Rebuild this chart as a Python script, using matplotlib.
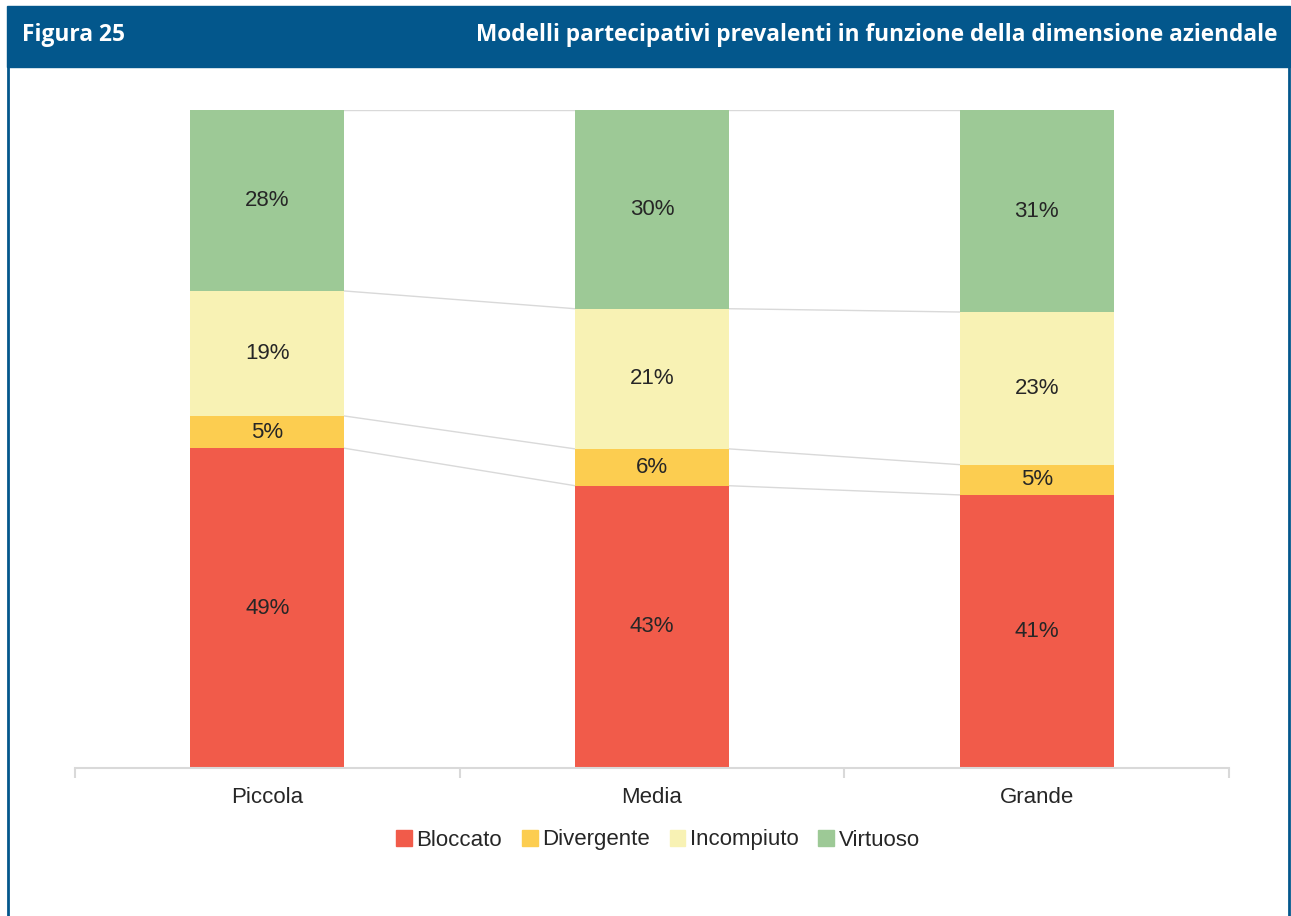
import matplotlib
matplotlib.use("Agg")
import matplotlib.pyplot as plt
from matplotlib.patches import Rectangle
from matplotlib.lines import Line2D
import numpy as np

# ---- data ----
categories = ["Piccola", "Media", "Grande"]
series = ["Bloccato", "Divergente", "Incompiuto", "Virtuoso"]
bloccato = [48.6, 42.9, 41.5]
divergente = [4.9, 5.6, 4.6]
incompiuto = [19.0, 21.3, 23.2]
virtuoso = [27.5, 30.2, 30.7]
labels_shown = [
    ["49%", "43%", "41%"],
    ["5%", "6%", "5%"],
    ["19%", "21%", "23%"],
    ["28%", "30%", "31%"],
]
colors = ["#F15B4A", "#FCCD50", "#F8F2B4", "#9DC996"]

HEADER = "#03578C"
TEXT = "#262626"
GRID = "#D9D9D9"
W, H = 1291, 916

plt.rcParams["font.family"] = ["Liberation Sans", "DejaVu Sans"]

fig = plt.figure(figsize=(W / 100, H / 100), dpi=100)

# header band and frame
fig.patches.append(Rectangle((7 / W, 1 - 67 / H), 1283 / W, 61 / H,
                             transform=fig.transFigure, color=HEADER, zorder=0))
for xb in (8 / W, 1289 / W):
    fig.lines.append(Line2D([xb, xb], [0, 1 - 66 / H], transform=fig.transFigure,
                            color=HEADER, lw=2))
fig.text(22 / W, 1 - 35 / H, "Figura 25", color="white", fontsize=16.4,
         fontweight="bold", family="Open Sans", va="center", ha="left")
fig.text(1278 / W, 1 - 35 / H,
         "Modelli partecipativi prevalenti in funzione della dimensione aziendale",
         color="white", fontsize=16.3, fontweight="bold", family="Open Sans",
         va="center", ha="right")

# plot area
ax = fig.add_axes([75 / W, (H - 768) / H, 1154 / W, 658 / H])
x = np.arange(len(categories))
width = 0.4
data = [bloccato, divergente, incompiuto, virtuoso]
bottom = np.zeros(len(categories))
tops = []
for name, vals, col, labs in zip(series, data, colors, labels_shown):
    vals = np.array(vals)
    ax.bar(x, vals, width, bottom=bottom, color=col, label=name, zorder=2)
    for xi, b, v, lab in zip(x, bottom, vals, labs):
        ax.text(xi, b + v / 2, lab, ha="center", va="center", fontsize=16, color=TEXT)
    bottom = bottom + vals
    tops.append(bottom.copy())

# series lines between bars
for t in tops:
    for i in range(len(categories) - 1):
        ax.plot([x[i] + width / 2, x[i + 1] - width / 2], [t[i], t[i + 1]],
                color=GRID, lw=1, zorder=1)

ax.set_xlim(-0.5, 2.5)
ax.set_ylim(0, 100)
for s in ("top", "right", "left"):
    ax.spines[s].set_visible(False)
ax.spines["bottom"].set_color(GRID)
ax.spines["bottom"].set_linewidth(1.5)
ax.set_yticks([])
ax.set_xticks([-0.5, 0.5, 1.5, 2.5], minor=False)
ax.set_xticklabels([])
ax.tick_params(axis="x", which="major", length=7, color=GRID, width=1.5)
ax.set_xticks(x, minor=True)
ax.set_xticklabels(categories, minor=True)
ax.tick_params(axis="x", which="minor", length=0, pad=14, labelsize=16, labelcolor=TEXT)

handles = [Rectangle((0, 0), 1, 1, color=c) for c in colors]
fig.legend(handles, series, loc="center", bbox_to_anchor=(658 / W, 1 - 840 / H),
           ncol=4, frameon=False, fontsize=16, handlelength=0.7, handleheight=0.7,
           handletextpad=0.2, columnspacing=0.9, labelcolor=TEXT)

fig.savefig("out.png", dpi=100)
